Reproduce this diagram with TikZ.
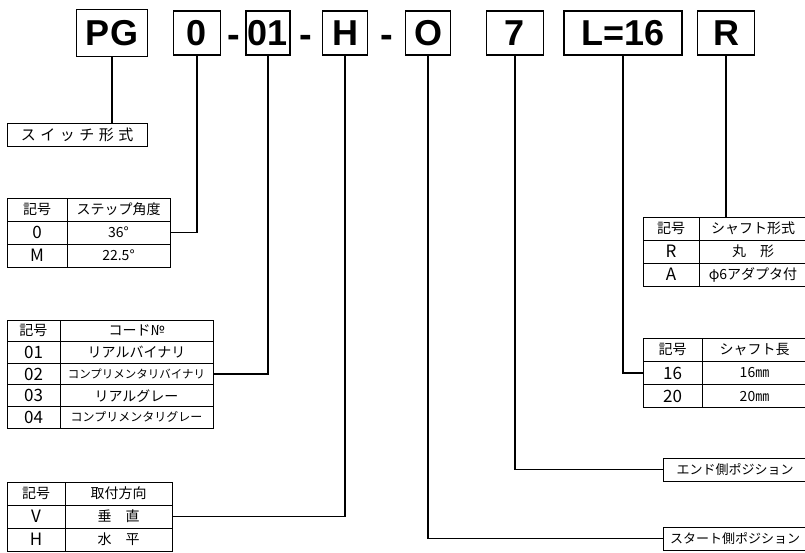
\documentclass[tikz,border=0pt]{standalone}
\usepackage{fontspec}
\setmainfont{Liberation Sans}
\newfontfamily\jp{Noto Sans CJK JP}
\newfontfamily\jpwide{Noto Sans CJK JP}[LetterSpace=30]
\usetikzlibrary{positioning,calc}
\newcommand{\keyfont}{\fontsize{17}{17}\selectfont}
\tikzset{
  code/.style  = {draw, line width=1.8pt, minimum height=44pt, inner sep=0pt,
                  font=\bfseries\fontsize{36}{36}\selectfont},
  hyph/.style  = {inner sep=0pt, anchor=base, font=\bfseries\fontsize{38}{38}\selectfont},
  cell/.style  = {draw, line width=0.9pt, minimum height=23pt, inner sep=0pt,
                  outer sep=0pt, anchor=north west, font=\jp\fontsize{14}{14}\selectfont},
  tag/.style   = {draw, line width=0.9pt, minimum height=23pt, inner sep=0pt,
                  outer sep=0pt, anchor=north west, font=\jp\fontsize{13}{13}\selectfont},
  link/.style  = {line width=1.1pt},
}

\begin{document}
\begin{tikzpicture}[x=1pt,y=-1pt]
  \useasboundingbox (0,0) rectangle (805,552);
  % the model code
  \node[code, minimum width=71pt, minimum height=47pt] (pg) at (112,33) {PG};
  \node[code, minimum width=47pt] (c0)  at (197,33) {0};
  \node[hyph] (h1) at (234,47) {-};
  \node[code, minimum width=44pt] (c01) at (268,33) {01};
  \node[hyph] (h2) at (306,47) {-};
  \node[code, minimum width=45pt] (cH)  at (345,33) {H};
  \node[hyph] (h3) at (387,47) {-};
  \node[code, minimum width=45pt] (cO)  at (428,33) {O};
  \node[code, minimum width=57pt] (c7)  at (515,33) {7};
  \node[code, minimum width=118pt] (cL) at (623,33) {L=16};
  \node[code, minimum width=57pt] (cR)  at (726,33) {R};

  % tables
  \node[tag, minimum width=140pt, font=\jpwide\fontsize{15}{15}\selectfont] (sw) at (7,123) {スイッチ形式};
  \foreach \k/\v [count=\i from 0] in {記号/ステップ角度, 0/36°, M/22.5°}{
    \node[cell, minimum width=60pt] (sa\i) at (7,{198+23*\i}) {\ifnum\i>0\keyfont\fi\k};
    \node[cell, minimum width=103pt, right=0pt of sa\i] (sb\i) {\v};
  }
  \foreach \k/\v [count=\i from 0] in {記号/コード№, 01/リアルバイナリ,
      02/{\fontsize{11.5}{12}\selectfont コンプリメンタリバイナリ}, 03/リアルグレー,
      04/{\fontsize{12}{12}\selectfont コンプリメンタリグレー}}{
    \node[cell, minimum width=53pt, minimum height=21.6pt] (ca\i) at (7,{320+21.6*\i}) {\ifnum\i>0\keyfont\fi\k};
    \node[cell, minimum width=153pt, minimum height=21.6pt, right=0pt of ca\i] (cb\i) {\v};
  }
  \foreach \k/\v [count=\i from 0] in {記号/取付方向, V/垂　直, H/水　平}{
    \node[cell, minimum width=58pt] (ma\i) at (7,{482+23*\i}) {\ifnum\i>0\keyfont\fi\k};
    \node[cell, minimum width=107pt, right=0pt of ma\i] (mb\i) {\v};
  }
  \foreach \k/\v [count=\i from 0] in {記号/シャフト形式, R/丸　形, A/φ6アダプタ付}{
    \node[cell, minimum width=56pt] (ra\i) at (643,{217+23*\i}) {\ifnum\i>0\keyfont\fi\k};
    \node[cell, minimum width=108pt, right=0pt of ra\i] (rb\i) {\v};
  }
  \foreach \k/\v [count=\i from 0] in {記号/シャフト長, 16/16㎜, 20/20㎜}{
    \node[cell, minimum width=59pt, minimum height=23.3pt] (la\i) at (643,{338+23.3*\i}) {\ifnum\i>0\keyfont\fi\k};
    \node[cell, minimum width=105pt, minimum height=23.3pt, right=0pt of la\i] (lb\i) {\v};
  }
  \node[tag, minimum width=144pt] (end)   at (663,458) {エンド側ポジション};
  \node[tag, minimum width=144pt] (start) at (663,527) {スタート側ポジション};

  % leaders
  \draw[link] (pg.south) -- (pg.south |- sw.north);
  \draw[link] (c0.south) |- (sb1.east);
  \draw[link] (c01.south) |- (cb2.east);
  \draw[link] (cH.south) |- (mb1.east);
  \draw[link] (cO.south) |- (start.west);
  \draw[link] (c7.south) |- (end.west);
  \draw[link] (cL.south) |- (la1.west);
  \draw[link] (cR.south) -- (cR.south |- ra0.north);
\end{tikzpicture}
\end{document}
